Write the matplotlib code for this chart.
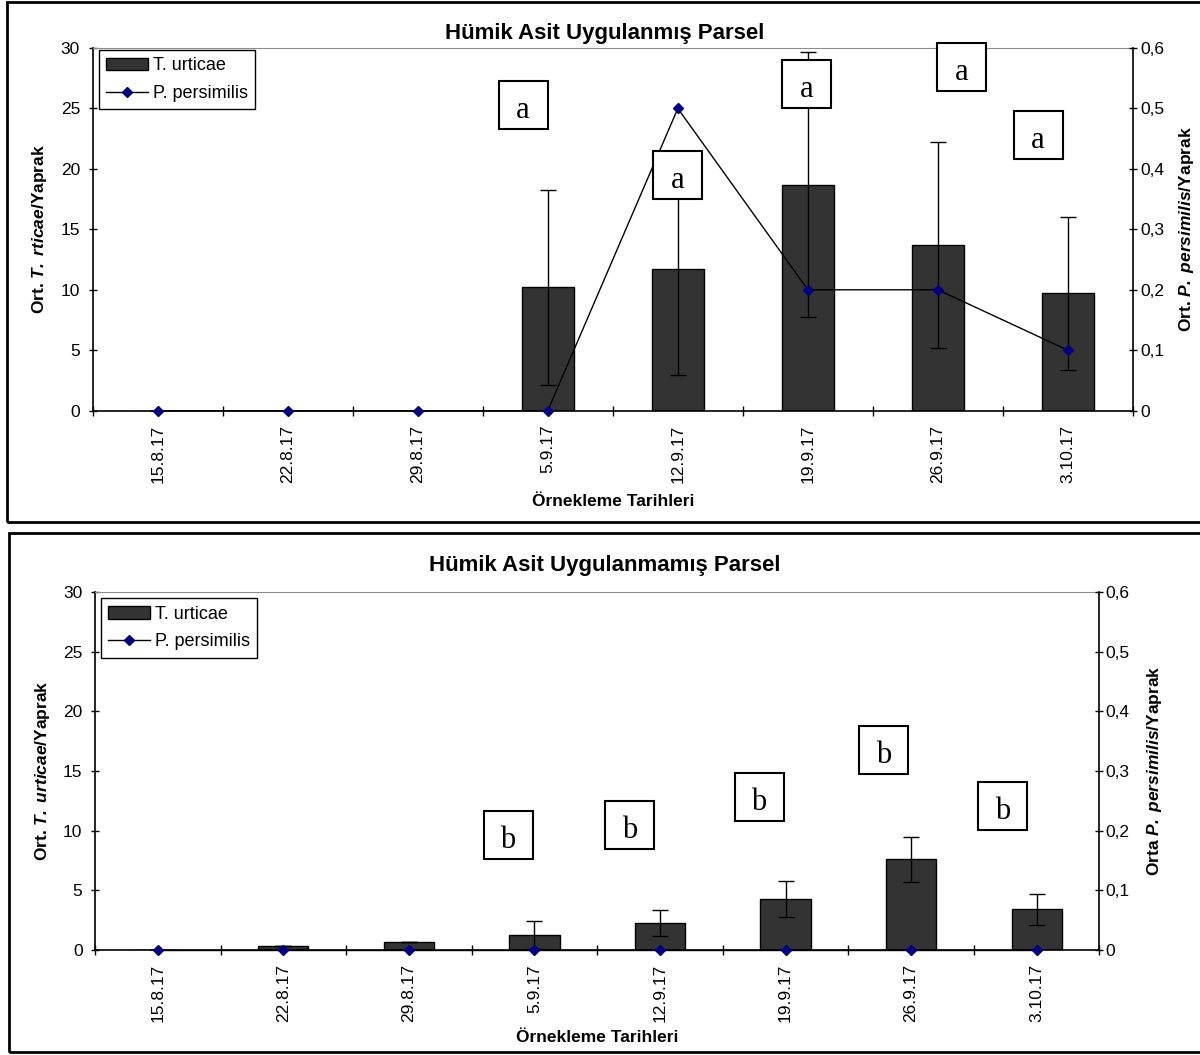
import numpy as np
import matplotlib.pyplot as plt
from matplotlib.patches import Rectangle
from matplotlib.lines import Line2D
from matplotlib.transforms import IdentityTransform

plt.rcParams['font.family'] = ['Liberation Sans', 'DejaVu Sans']
plt.rcParams['mathtext.fontset'] = 'custom'
plt.rcParams['mathtext.rm'] = 'Liberation Sans'
plt.rcParams['mathtext.it'] = 'Liberation Sans:italic'
plt.rcParams['mathtext.bf'] = 'Liberation Sans:bold'
plt.rcParams['mathtext.bfit'] = 'Liberation Sans:italic:bold'

dates = ['15.8.17', '22.8.17', '29.8.17', '5.9.17', '12.9.17', '19.9.17', '26.9.17', '3.10.17']

# humic acid applied plot
tu_top = [0, 0, 0, 10.2, 11.75, 18.7, 13.7, 9.7]
tu_top_err = [0, 0, 0, 8.05, 8.8, 10.95, 8.5, 6.3]
pp_top = [0, 0, 0, 0, 0.5, 0.2, 0.2, 0.1]
letters_top = ['a', 'a', 'a', 'a', 'a']
letter_x_top = [2.81, 4.0, 4.99, 6.18, 6.77]
letter_y_top = [25.3, 19.5, 27.0, 28.4, 22.8]

# humic acid not applied plot
tu_bot = [0, 0.36, 0.7, 1.27, 2.28, 4.25, 7.6, 3.42]
tu_bot_err = [0, 0, 0, 1.15, 1.08, 1.5, 1.9, 1.3]
pp_bot = [0, 0, 0, 0, 0, 0, 0, 0]
letters_bot = ['b', 'b', 'b', 'b', 'b']
letter_x_bot = [2.79, 3.76, 4.79, 5.78, 6.73]
letter_y_bot = [9.6, 10.5, 12.8, 16.8, 12.1]

W, H = 1200, 1055
fig = plt.figure(figsize=(W / 100, H / 100), dpi=100)


def frac(x0, y0, x1, y1):
    # pixel box (top-left origin) -> figure fraction rect
    return [x0 / W, 1 - y1 / H, (x1 - x0) / W, (y1 - y0) / H]


def fx(x):
    return x / W


def fy(y):
    return 1 - y / H


def make_panel(rect, tu, err, pp, title, ylab, y2lab, title_xy, xlab_y, ylab_x, y2lab_x,
               leg_anchor, letters, lx, ly, r_pad):
    ax = fig.add_axes(frac(*rect))
    x = np.arange(len(dates))
    ax.bar(x, tu, width=0.4, color='#333333', edgecolor='black', linewidth=1, zorder=2)
    ax.errorbar(x, tu, yerr=err, fmt='none', ecolor='black', elinewidth=1, capsize=6,
                capthick=1, zorder=3)
    ax.set_xlim(-0.5, len(dates) - 0.5)
    ax.set_ylim(0, 30)
    ax.set_yticks(np.arange(0, 31, 5))
    ax.set_xticks(np.arange(-0.5, len(dates), 1.0))
    ax.set_xticklabels([])
    ax.set_xticks(x, minor=True)
    ax.set_xticklabels(dates, minor=True, rotation=90, fontsize=12.5)
    ax.tick_params(axis='x', which='major', direction='inout', length=7, width=1)
    ax.tick_params(axis='x', which='minor', length=0, pad=10)
    ax.tick_params(axis='y', direction='inout', length=6, width=1, labelsize=12.5, pad=6)
    ax.spines['top'].set_color('#8c8c8c')
    ax.spines['right'].set_visible(False)
    for s in ['left', 'bottom']:
        ax.spines[s].set_linewidth(1.2)

    ax2 = ax.twinx()
    ax2.plot(x, pp, color='black', lw=1, marker='D', ms=5.5, mfc='#000080', mec='#000080',
             zorder=4, clip_on=False)
    ax2.set_ylim(0, 0.6)
    ax2.set_yticks(np.arange(0, 0.61, 0.1))
    ax2.set_yticklabels(['0' if v == 0 else f'{v:.1f}'.replace('.', ',')
                         for v in np.arange(0, 0.61, 0.1)])
    ax2.tick_params(axis='y', direction='inout', length=6, width=1, labelsize=12.5, pad=r_pad)
    for s in ['top', 'left', 'bottom']:
        ax2.spines[s].set_visible(False)
    ax2.spines['right'].set_linewidth(1.2)

    handles = [Rectangle((0, 0), 1, 1, facecolor='#333333', edgecolor='black', lw=1),
               Line2D([], [], color='black', lw=1, marker='D', ms=5.5, mfc='#000080',
                      mec='#000080')]
    leg = ax2.legend(handles, ['T. urticae', 'P. persimilis'], loc='upper left',
                     bbox_to_anchor=leg_anchor, borderaxespad=0, fontsize=13,
                     fancybox=False, framealpha=1, edgecolor='black', borderpad=0.4,
                     labelspacing=0.6, handlelength=2.3, handletextpad=0.3)
    leg.get_frame().set_linewidth(1)

    fig.text(fx(title_xy[0]), fy(title_xy[1]), title, ha='center', va='center',
             fontsize=16, fontweight='bold')
    fig.text(fx((rect[0] + rect[2]) / 2), fy(xlab_y), 'Örnekleme Tarihleri', ha='center',
             va='center', fontsize=12.5, fontweight='bold')
    fig.text(fx(ylab_x), fy((rect[1] + rect[3]) / 2), ylab, ha='center', va='center',
             rotation=90, fontsize=12.5, fontweight='bold')
    fig.text(fx(y2lab_x), fy((rect[1] + rect[3]) / 2), y2lab, ha='center', va='center',
             rotation=90, fontsize=12.5, fontweight='bold')

    # significance letter boxes
    for t, bx, by in zip(letters, lx, ly):
        cx, cy = ax.transData.transform((bx, by))
        fig.patches.append(Rectangle((cx - 24.5, cy - 24), 49, 48, transform=IdentityTransform(),
                                     facecolor='white', edgecolor='black', lw=1.5, zorder=10))
        fig.text(cx / W, (cy - 13) / H, t, ha='center', va='baseline', fontsize=22,
                 family='Liberation Serif', zorder=11)
    return ax


make_panel((92.6, 48, 1133, 410.7), tu_top, tu_top_err, pp_top,
           'Hümik Asit Uygulanmış Parsel',
           r'Ort. $\mathbfit{T.\ rticae}$/Yaprak',
           r'Ort. $\mathbfit{P.\ persimilis}$/Yaprak',
           (605, 33), 502, 40, 1186, (0.006, 0.994), letters_top, letter_x_top, letter_y_top, 2)

make_panel((95, 592, 1099.4, 950), tu_bot, tu_bot_err, pp_bot,
           'Hümik Asit Uygulanmamış Parsel',
           r'Ort. $\mathbfit{T.\ urticae}$/Yaprak',
           r'Orta $\mathbfit{P.\ persimilis}$/Yaprak',
           (605, 565), 1037, 42, 1155, (0.006, 0.982), letters_bot, letter_x_bot, letter_y_bot, 1.5)

# outer chart frames (right side runs off the image)
for (x0, y0, x1, y1) in [(7, 2, 1215, 522), (9, 533, 1215, 1052)]:
    fig.patches.append(Rectangle((fx(x0), fy(y1)), fx(x1) - fx(x0), fy(y0) - fy(y1),
                                 transform=fig.transFigure, fill=False, edgecolor='black',
                                 lw=2, zorder=20))

fig.savefig('out.png', dpi=100)
